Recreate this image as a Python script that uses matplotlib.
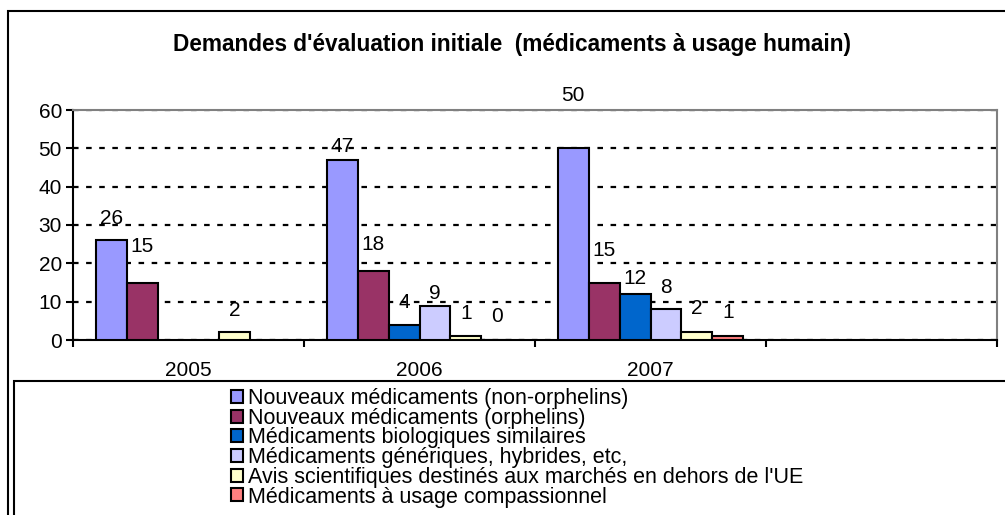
import numpy as np
import matplotlib.pyplot as plt
from matplotlib.patches import Rectangle

plt.rcParams['font.family'] = ['Liberation Sans', 'DejaVu Sans']

years = ['2005', '2006', '2007', '']
series = [
    'Nouveaux médicaments (non-orphelins)',
    'Nouveaux médicaments (orphelins)',
    'Médicaments biologiques similaires',
    'Médicaments génériques, hybrides, etc,',
    "Avis scientifiques destinés aux marchés en dehors de l'UE",
    'Médicaments à usage compassionnel',
]
non_orphelins = [26, 47, 50]
orphelins = [15, 18, 15]
biosimilaires = [None, 4, 12]
generiques = [None, 9, 8]
avis_hors_ue = [2, 1, 2]
compassionnel = [None, 0, 1]
values = [non_orphelins, orphelins, biosimilaires, generiques, avis_hors_ue, compassionnel]

colors = ['#9999FF', '#993366', '#0066CC', '#CCCCFF', '#FFFFCC', '#FF8080']
# the value labels sit at uneven heights in the original (px above the bar top)
label_dy = [[22, 13, 53], [36, 27, 32], [0, 22, 16], [0, 12, 22], [22, 23, 24], [0, 24, 24]]

W, H = 1005, 515
fig = plt.figure(figsize=(W / 100, H / 100), dpi=100)
ax = fig.add_axes([73 / W, 1 - 340 / H, (997 - 73) / W, (340 - 110) / H])

bw = 0.134
bars = []
for i, vals in enumerate(values):
    xs = [k + (i - 2.5) * bw for k, v in enumerate(vals) if v is not None]
    hs = [v for v in vals if v is not None]
    b = ax.bar(xs, hs, width=bw, color=colors[i], edgecolor='black', linewidth=1.5, zorder=3)
    bars.append(b)
    for k, v in enumerate(vals):
        if v is None:
            continue
        ax.annotate(str(v), (k + (i - 2.5) * bw, v), xytext=(0, label_dy[i][k] * 0.72),
                    textcoords='offset points', ha='center', va='center', fontsize=15,
                    annotation_clip=False, zorder=4)

ax.set_xlim(-0.5, 3.5)
ax.set_ylim(0, 60)
ax.set_yticks(np.arange(0, 61, 10))
ax.set_xticks(np.arange(-0.5, 3.6, 1))
ax.set_xticklabels([])
ax.set_xticks(np.arange(len(years)), minor=True)
ax.set_xticklabels(years, minor=True)
ax.tick_params(axis='x', which='major', direction='out', length=5, width=1.5)
ax.tick_params(axis='x', which='minor', length=0, pad=15, labelsize=15)
ax.tick_params(axis='y', direction='out', length=5, width=1.5, labelsize=15, pad=3)

ax.yaxis.grid(True, color='black', linewidth=1.6, linestyle=(0, (2.5, 3.4)), zorder=1)
ax.set_axisbelow(True)
for s in ['top', 'right']:
    ax.spines[s].set_color('#808080')
    ax.spines[s].set_linewidth(1.5)
for s in ['left', 'bottom']:
    ax.spines[s].set_linewidth(1.5)

fig.text(512 / W, 1 - 45 / H, "Demandes d'évaluation initiale  (médicaments à usage humain)",
         ha='center', va='center', fontsize=16.3, fontweight='bold')

# chart frame and legend frame, both cut off by the image edges
fig.patches.append(Rectangle((8 / W, -0.1), 1.1, 1 - 11 / H + 0.1, transform=fig.transFigure,
                             fill=False, edgecolor='black', linewidth=1.5))
fig.patches.append(Rectangle((14 / W, -0.1), 1.1, 1 - 381 / H + 0.1, transform=fig.transFigure,
                             fill=False, edgecolor='black', linewidth=1.5))

fig.legend(handles=bars, labels=series, loc='upper left', bbox_to_anchor=(231 / W, 1 - 388 / H),
           frameon=False, fontsize=15.5, handlelength=0.55, handleheight=0.55,
           handletextpad=0.25, labelspacing=-0.06, borderpad=0, borderaxespad=0)

fig.savefig('out.png', dpi=100)
